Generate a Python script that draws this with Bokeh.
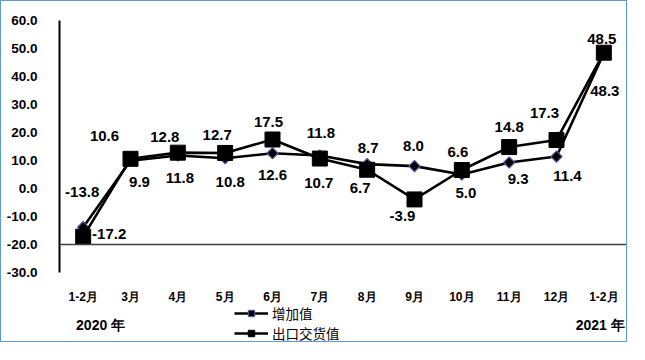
import math
from bokeh.plotting import figure
from bokeh.models import (Range1d, FixedTicker, Span, Legend, LegendItem, Label,
                          ColumnDataSource, NumeralTickFormatter)
from bokeh.core.properties import value
from bokeh.embed import file_html
from bokeh.resources import INLINE

# ---- data ----
months = ["1-2月", "3月", "4月", "5月", "6月", "7月", "8月", "9月", "10月", "11月", "12月", "1-2月"]
added_value = [-13.8, 9.9, 11.8, 10.8, 12.6, 11.8, 8.7, 8.0, 5.0, 9.3, 11.4, 48.3]
export_value = [-17.2, 10.6, 12.8, 12.7, 17.5, 10.7, 6.7, -3.9, 6.6, 14.8, 17.3, 48.5]
series_names = ["增加值", "出口交货值"]
year_labels = ["2020 年", "2021 年"]
y_ticks = [-30, -20, -10, 0, 10, 20, 30, 40, 50, 60]

# label offsets in pixels (style)
av_dx = [-1, 9, 2, 5, 0, 1, 1, -1, 4, 9, 11, 1]
av_dy = [-35, 21, 23, 24, 22, -22, -16, -20, 18, 17, 19, 38]
ex_dx = [26, -26, -13, -8, -4, -1, -7, -12, -4, 0, -12, -2]
ex_dy = [-3, -23, -16, -18, -18, 24, 18, 17, -18, -20, -27, -14]

xs = [i + 0.5 for i in range(len(months))]
NAN = float("nan")

FONT = "Liberation Sans"
CJK = "Noto Sans CJK SC"

# frame: 323 px tall for 2.8 px per unit -> range 60 down to 60 - 323/2.8
Y_TOP = 60
Y_BOTTOM = Y_TOP - 323 / 2.8
MONTH_Y = -38.6
YEAR_Y = -48.9

p = figure(width=627, height=342, output_backend="svg", toolbar_location=None,
           x_range=Range1d(0, len(months)), y_range=Range1d(Y_BOTTOM, Y_TOP),
           min_border_left=58, min_border_right=1, min_border_top=19, min_border_bottom=0)
p.styles = {"border": "1px solid #5B9BD5"}
p.outline_line_color = None
p.xgrid.visible = False
p.ygrid.visible = False
p.xaxis.visible = False

# y axis
yax = p.yaxis[0]
yax.ticker = FixedTicker(ticks=y_ticks)
yax.bounds = (min(y_ticks), max(y_ticks))
yax.formatter = NumeralTickFormatter(format="0.0")
yax.major_tick_line_color = None
yax.minor_tick_line_color = None
yax.axis_line_color = "#000000"
yax.axis_line_width = 2
yax.major_label_text_font = FONT
yax.major_label_text_font_style = "bold"
yax.major_label_text_font_size = "13.5px"
yax.major_label_text_color = "#000000"
yax.major_label_standoff = 16

# horizontal line at -20
p.add_layout(Span(location=-20, dimension="width", line_color="#404040", line_width=1.3))

# month labels (category axis labels)
p.text(x=xs, y=[MONTH_Y] * len(xs), text=months, text_align="center", text_baseline="middle",
       text_font=value(FONT), text_font_style="bold", text_font_size="12px", text_color="#000000")

# series
l1 = p.line(xs, added_value, line_color="black", line_width=2.6)
s1 = p.scatter(xs, added_value, marker="square", angle=math.pi / 4, size=8, fill_color="#000000",
               line_color="#5A5AA8", line_width=1.2)
l2 = p.line(xs, export_value, line_color="black", line_width=2.6)
s2 = p.scatter(xs, export_value, marker="square", size=15, fill_color="#000000",
               line_color="#000000")

# data labels
src1 = ColumnDataSource(dict(x=xs, y=added_value, t=[f"{v:.1f}" for v in added_value],
                             dx=av_dx, dy=av_dy))
src2 = ColumnDataSource(dict(x=xs, y=export_value, t=[f"{v:.1f}" for v in export_value],
                             dx=ex_dx, dy=ex_dy))
for src in (src1, src2):
    p.text(x="x", y="y", text="t", x_offset="dx", y_offset="dy", source=src,
           text_align="center", text_baseline="middle",
           text_font=value(FONT), text_font_style="bold", text_font_size="15px",
           text_color="#000000")

# legend (invisible dummy renderers with smaller markers)
ll1 = p.line([NAN], [NAN], line_color="black", line_width=2.6)
ls1 = p.scatter([NAN], [NAN], marker="square", angle=math.pi / 4, size=5, fill_color="#000000",
                line_color="#5A5AA8", line_width=1)
ll2 = p.line([NAN], [NAN], line_color="black", line_width=2.6)
ls2 = p.scatter([NAN], [NAN], marker="square", size=9, fill_color="#000000", line_color="#000000")
legend = Legend(items=[LegendItem(label=series_names[0], renderers=[ll1, ls1]),
                       LegendItem(label=series_names[1], renderers=[ll2, ls2])],
                location=(175, 0), orientation="vertical",
                glyph_width=34, glyph_height=16, label_standoff=4, spacing=0,
                padding=0, margin=0, border_line_color=None, background_fill_alpha=0,
                label_text_font=CJK, label_text_font_size="13.5px", label_text_color="#000000",
                label_height=16)
p.add_layout(legend, "center")

# year labels
p.add_layout(Label(x=0.35, y=YEAR_Y, text=year_labels[0], text_align="left", text_baseline="middle",
                   text_font=FONT, text_font_style="bold", text_font_size="14px",
                   text_color="#000000"))
p.add_layout(Label(x=11.94, y=YEAR_Y, text=year_labels[1], text_align="right", text_baseline="middle",
                   text_font=FONT, text_font_style="bold", text_font_size="14px",
                   text_color="#000000"))

open("out.html", "w").write(file_html(p, INLINE))
